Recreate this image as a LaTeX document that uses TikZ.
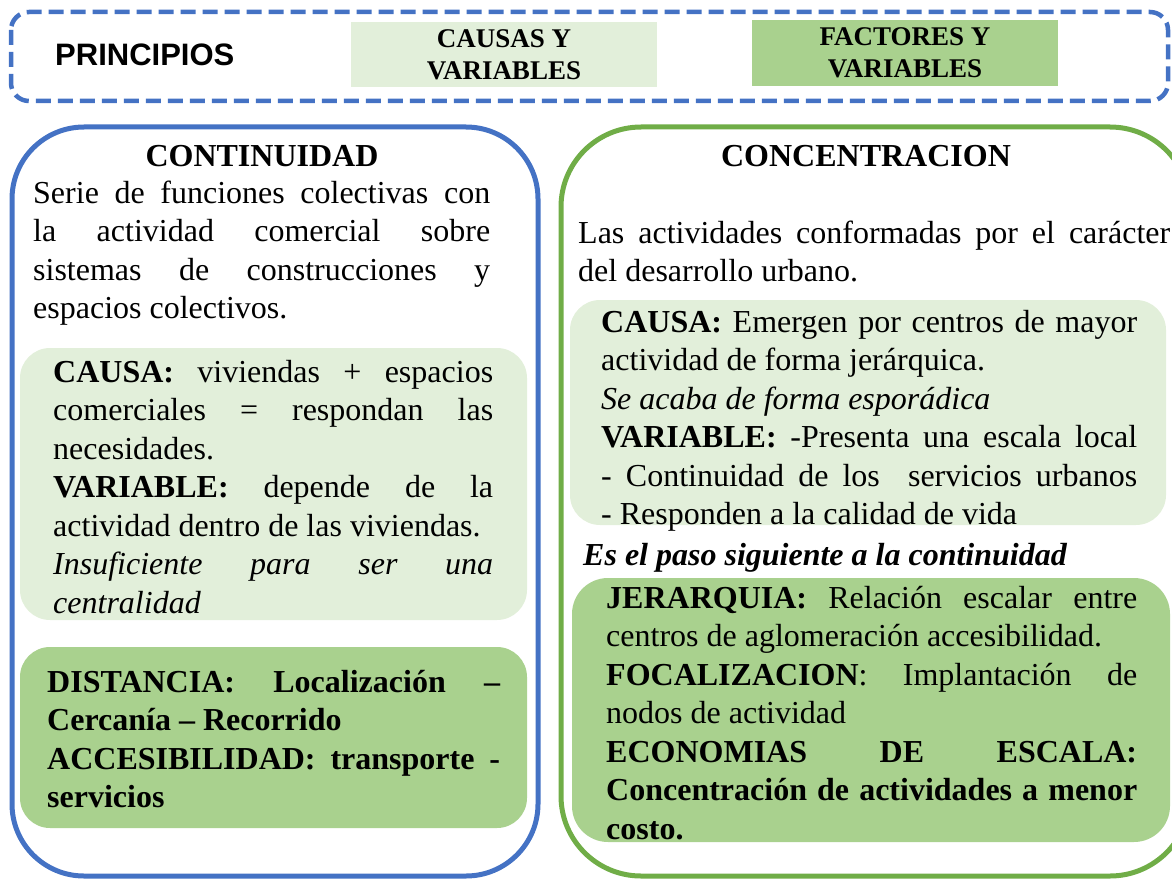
\documentclass[tikz,border=0pt]{standalone}
\usepackage{fontspec}
\setmainfont{Liberation Serif}
\newfontfamily\arialfam{Liberation Sans}
\definecolor{bluel}{HTML}{4472C4}
\definecolor{greenl}{HTML}{70AD47}
\definecolor{lightg}{HTML}{E2EFDA}
\definecolor{midg}{HTML}{A9D18E}
\newcommand\bodyf{\fontsize{32}{38.5}\selectfont\tolerance=10000\hyphenpenalty=10000\exhyphenpenalty=10000}
\begin{document}
\begin{tikzpicture}[x=1pt,y=-1pt,
  txt/.style={anchor=base west, inner sep=0pt, align=justify, font=\bodyf},
  ttl/.style={anchor=base, inner sep=0pt, font=\fontsize{32}{38.5}\selectfont\bfseries},
  hdr/.style={inner sep=0pt, align=center, font=\fontsize{27}{32}\selectfont\bfseries},
  outerbox/.style={line width=5pt, rounded corners=72pt},
  panel/.style={rounded corners=30pt}]
\useasboundingbox (0,0) rectangle (1172,880);
\clip (0,0) rectangle (1172,880);
% header
\draw[bluel, line width=4.5pt, dash pattern=on 15pt off 7pt, rounded corners=18pt] (11,12) rectangle (1168,101);
\node[anchor=base west, inner sep=0pt, font=\arialfam\fontsize{31}{36}\selectfont\bfseries] (pr) at (55,66) {PRINCIPIOS};
\node[hdr, fill=lightg, minimum width=306pt, minimum height=65pt] (cv) at (504,54.5) {CAUSAS Y\\VARIABLES};
\node[hdr, fill=midg, minimum width=306pt, minimum height=66pt] (fv) at (905,53) {FACTORES Y\\VARIABLES};
% outer boxes
\draw[bluel, outerbox] (12,127) rectangle (538,876);
\draw[greenl, outerbox, rounded corners=80pt] (561,127) rectangle (1190,876);
% panels
\fill[lightg, panel] (20,348) rectangle (527,620);
\fill[midg, panel] (20,647) rectangle (527,828);
\fill[lightg, panel] (570,300) rectangle (1166,525);
\fill[midg, panel, rounded corners=36pt] (572,578) rectangle (1170,842);
% left column
\node[ttl] (t1) at (262,166) {CONTINUIDAD};
\node[txt, text width=457pt] (p1) at (33,203) {Serie de funciones colectivas con\linebreak la actividad comercial sobre\linebreak sistemas de construcciones y\linebreak espacios colectivos.};
\node[txt, text width=440pt] (c1) at (53,382) {\textbf{CAUSA:} viviendas + espacios\linebreak comerciales = respondan las\linebreak necesidades.\par
\textbf{VARIABLE:} depende de la\linebreak actividad dentro de las viviendas.\par
\textit{Insuficiente para ser una\linebreak centralidad}};
\node[txt, text width=453pt] (d1) at (47,692) {\bfseries DISTANCIA: Localización –\linebreak Cercanía – Recorrido\par
ACCESIBILIDAD: transporte -\linebreak servicios};
% right column
\node[ttl] (t2) at (866,166) {CONCENTRACION};
\node[txt, text width=592pt] (p2) at (578,243) {Las actividades conformadas por el carácter\linebreak del desarrollo urbano.};
\node[txt, text width=536pt] (c2) at (601,332) {\textbf{CAUSA:} Emergen por centros de mayor\linebreak actividad de forma jerárquica.\par
\textit{Se acaba de forma esporádica}\par
\textbf{VARIABLE:} -Presenta una escala local\linebreak - Continuidad de los\ \ servicios urbanos\linebreak - Responden a la calidad de vida};
\node[txt] (nx) at (583,565) {\textbf{\textit{Es el paso siguiente a la continuidad}}};
\node[txt, text width=531pt] (f2) at (606,608) {\textbf{JERARQUIA:} Relación escalar entre\linebreak centros de aglomeración accesibilidad.\par
\textbf{FOCALIZACION}: Implantación de\linebreak nodos de actividad\par
\textbf{ECONOMIAS DE ESCALA:\linebreak Concentración de actividades a menor\linebreak costo.}};
\end{tikzpicture}
\end{document}
